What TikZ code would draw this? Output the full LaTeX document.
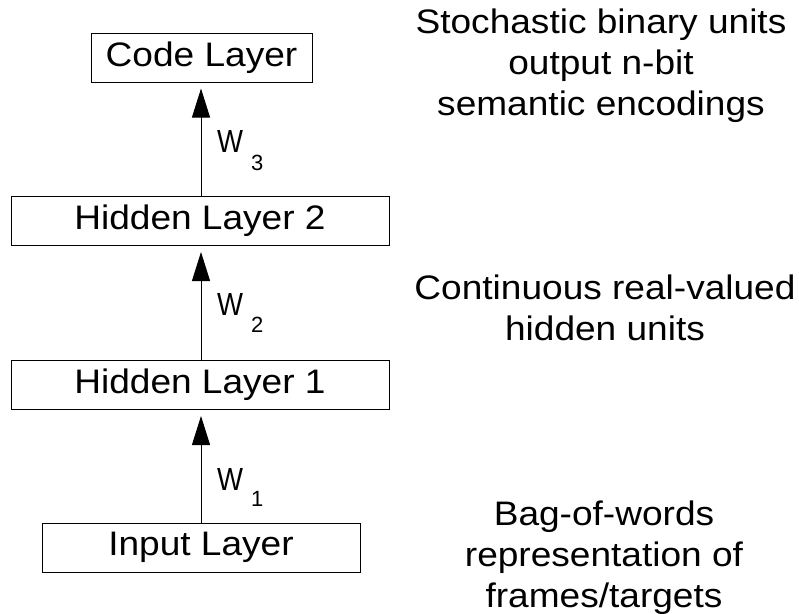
\documentclass[tikz,border=0pt]{standalone}
\usepackage{fontspec}
\setmainfont[FakeStretch=1.09]{Liberation Sans}
\newfontfamily\wfont{Liberation Sans}
\usetikzlibrary{arrows.meta}
\tikzset{
  layerbox/.style={draw=black, line width=1pt, inner sep=0pt, minimum height=49pt,
    font=\fontsize{34}{41}\selectfont},
  flow/.style={line width=1pt, shorten >=6pt,
    -{Triangle[length=29pt, width=18pt]}},
  wlabel/.style={anchor=base west, inner sep=0pt, font=\wfont\fontsize{32}{32}\selectfont},
  wsub/.style={anchor=base west, inner sep=0pt, font=\wfont\fontsize{22}{22}\selectfont},
  note/.style={align=center, inner sep=0pt, anchor=base,
    font=\fontsize{34}{41}\selectfont}
}
\begin{document}
\begin{tikzpicture}[x=1pt, y=-1pt]
\useasboundingbox (0,0) rectangle (799,613);

% layer boxes
\node[layerbox, minimum width=221pt] (code) at (201.5,57.5) {Code Layer};
\node[layerbox, minimum width=378pt] (hid2) at (200,221) {Hidden Layer 2};
\node[layerbox, minimum width=378pt] (hid1) at (200,385) {Hidden Layer 1};
\node[layerbox, minimum width=318pt] (inp) at (201,547.5) {Input Layer};

% weight connections
\draw[flow] (inp.north -| 201,0) -- (hid1.south -| 201,0);
\draw[flow] (hid1.north -| 201,0) -- (hid2.south -| 201,0);
\draw[flow] (hid2.north -| 201,0) -- (code.south -| 201,0);

% weight labels
\node[wlabel] (w1) at (217,490) {\scalebox{0.86}[1]{W}};
\node[wsub] (w1s) at (251,506) {1};
\node[wlabel] (w2) at (217,315) {\scalebox{0.86}[1]{W}};
\node[wsub] (w2s) at (251,332) {2};
\node[wlabel] (w3) at (217,152) {\scalebox{0.86}[1]{W}};
\node[wsub] (w3s) at (251,170) {3};

% unit descriptions (anchored at the baseline of the last line)
\node[note] (n3) at (601,115) {Stochastic binary units\\output n-bit\\semantic encodings};
\node[note] (n2) at (605,340) {Continuous real-valued\\hidden units};
\node[note] (n1) at (604,607) {Bag-of-words\\representation of\\frames/targets};
\end{tikzpicture}
\end{document}
